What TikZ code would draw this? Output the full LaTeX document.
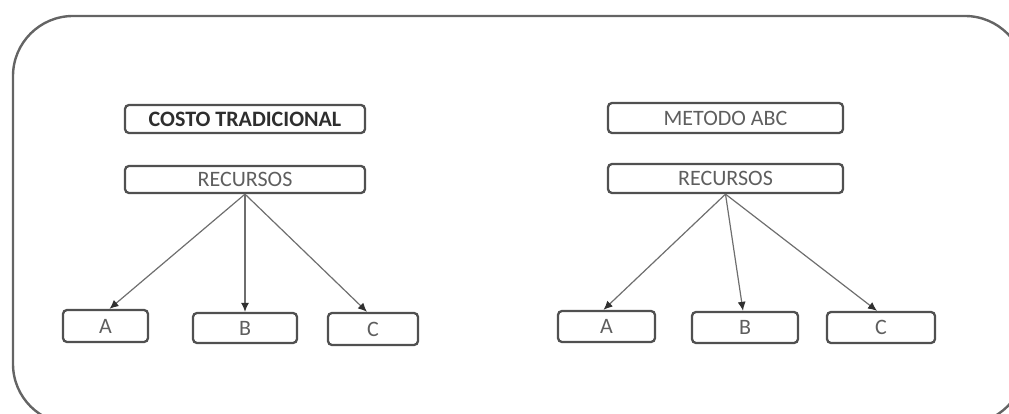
\documentclass[tikz,border=0pt]{standalone}
\usepackage{fontspec}
\setmainfont{Carlito}
\usetikzlibrary{arrows.meta}
\definecolor{framegray}{HTML}{646464}
\definecolor{boxgray}{HTML}{505050}
\definecolor{textgray}{HTML}{5E5E5E}
\definecolor{linegray}{HTML}{6E6E6E}
\definecolor{tipgray}{HTML}{303030}
\tikzset{
  box/.style={draw=boxgray, line width=2.3pt, rounded corners=4pt, inner sep=0pt,
    text=textgray, font=\fontsize{22}{26}\selectfont},
  titlebox/.style={box, text=black!82, font=\fontsize{22}{26}\selectfont\bfseries},
  arr/.style={draw=linegray, line width=1.2pt,
    -{Latex[length=9pt,width=8pt,color=tipgray,fill=tipgray]}},
}
\begin{document}
\begin{tikzpicture}[x=1pt,y=-1pt]
\useasboundingbox (0,0) rectangle (1009,414);
% outer frame, running past the right and bottom edges
\draw[framegray, line width=2.4pt, rounded corners=60pt] (13,16) rectangle (1025,424);

% traditional costing
\node[titlebox, minimum width=240pt, minimum height=28pt] (ct) at (245,119) {COSTO TRADICIONAL};
\node[box, minimum width=240pt, minimum height=27pt] (r1) at (245,179.5) {RECURSOS};
\node[box, minimum width=85pt, minimum height=32pt] (a1) at (105.5,326) {A};
\node[box, minimum width=104pt, minimum height=30pt] (b1) at (245,328) {B};
\node[box, minimum width=90pt, minimum height=32pt] (c1) at (373,329) {C};

% activity based costing
\node[box, minimum width=235pt, minimum height=30pt] (mabc) at (725.5,118) {METODO ABC};
\node[box, minimum width=235pt, minimum height=29pt] (r2) at (725.5,178.5) {RECURSOS};
\node[box, minimum width=97pt, minimum height=31pt] (a2) at (606.5,326.5) {A};
\node[box, minimum width=106pt, minimum height=31pt] (b2) at (745,327.5) {B};
\node[box, minimum width=108pt, minimum height=31pt] (c2) at (881,327.5) {C};

% connectors
\draw[arr] (r1.south) -- ([xshift=4pt]a1.north);
\draw[arr] (r1.south) -- (b1.north);
\draw[arr] (r1.south) -- ([xshift=-6pt]c1.north);
\draw[arr] (r2.south) -- ([xshift=-3pt]a2.north);
\draw[arr] (r2.south) -- ([xshift=-2pt]b2.north);
\draw[arr] (r2.south) -- ([xshift=-4pt]c2.north);
\end{tikzpicture}
\end{document}
